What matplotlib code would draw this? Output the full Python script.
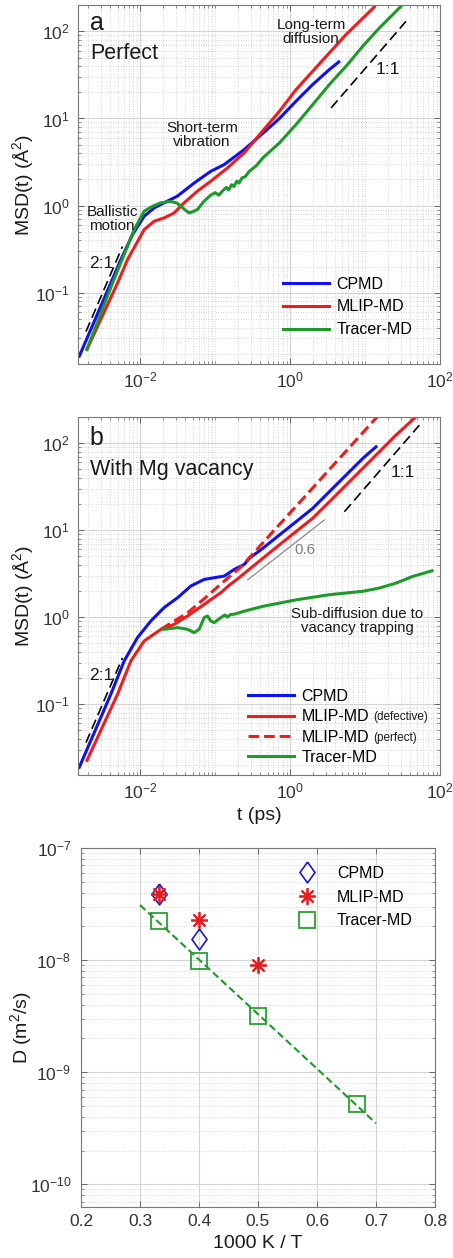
import numpy as np
import matplotlib
matplotlib.use("Agg")
import matplotlib.pyplot as plt
from matplotlib.ticker import LogLocator, FixedLocator, NullFormatter, MultipleLocator

plt.rcParams["font.family"] = ["Liberation Sans", "DejaVu Sans"]
plt.rcParams["mathtext.fontset"] = "custom"
plt.rcParams["mathtext.rm"] = "Liberation Sans"
plt.rcParams["mathtext.it"] = "Liberation Sans:italic"
plt.rcParams["mathtext.bf"] = "Liberation Sans:bold"

BLUE, RED, GREEN = "#1010f0", "#ee1c1c", "#1e9a28"

# ====== (a) perfect crystal: MSD(t) ======
t_cpmd_a = [1.54e-3, 5.52e-3, 7.91e-3, 1.13e-2, 1.54e-2, 2.09e-2, 3.15e-2, 5.25e-2,
            8.75e-2, 0.132, 0.244, 0.433, 0.721, 1.20, 2.00, 3.34, 4.46]
msd_cpmd_a = [0.0188, 0.241, 0.467, 0.757, 0.944, 1.08, 1.29, 1.82,
              2.48, 2.96, 4.40, 6.76, 10.0, 15.8, 24.5, 36.4, 44.5]

t_mlip_a = [1.95e-3, 4.99e-3, 6.78e-3, 1.13e-2, 1.54e-2, 2.09e-2, 2.84e-2, 3.86e-2,
            5.81e-2, 8.75e-2, 0.146, 0.244, 0.433, 0.721, 1.20, 2.00, 3.34, 5.58, 13.3]
msd_mlip_a = [0.0225, 0.130, 0.241, 0.532, 0.664, 0.724, 0.826, 1.08,
              1.47, 1.91, 2.71, 4.03, 7.24, 12.1, 21.4, 34.8, 56.5, 91.6, 190]

t_tracer_a = [1.95e-3, 4.28e-3, 6.78e-3, 8.32e-3, 1.13e-2, 1.45e-2, 1.89e-2, 2.56e-2,
              3.1e-2, 3.48e-2, 4.0e-2, 4.5e-2, 5.01e-2, 5.81e-2, 7.08e-2, 8.71e-2,
              0.100, 0.112, 0.126, 0.141, 0.151, 0.166, 0.178, 0.195, 0.209, 0.229,
              0.251, 0.282, 0.355, 0.433, 0.721, 1.20, 2.00, 3.34, 5.58, 9.31, 15.5, 31.8]
msd_tracer_a = [0.0225, 0.130, 0.343, 0.532, 0.865, 0.98, 1.08, 1.12,
                1.07, 0.986, 0.89, 0.826, 0.851, 0.904, 1.12, 1.32,
                1.41, 1.32, 1.48, 1.62, 1.51, 1.74, 1.66, 1.91, 1.82, 2.09,
                2.14, 2.45, 2.88, 3.53, 5.25, 8.51, 14.4, 24.5, 39.7, 67.3, 109, 202]

# ====== (b) with Mg vacancy ======
t_cpmd_b = [1.54e-3, 4.06e-3, 6.12e-3, 9.20e-3, 1.39e-2, 2.09e-2, 3.15e-2, 4.74e-2,
            7.13e-2, 0.107, 0.132, 0.179, 0.244, 0.287, 0.433, 0.721, 1.20, 2.00,
            3.34, 5.58, 9.31, 14.0]
msd_cpmd_b = [0.0188, 0.130, 0.314, 0.582, 0.904, 1.29, 1.67, 2.28,
              2.71, 2.88, 2.96, 3.53, 4.03, 4.76, 6.19, 8.81, 12.5, 17.8,
              27.7, 43.0, 66.7, 90.8]

t_mlip_def = [1.95e-3, 4.99e-3, 7.52e-3, 1.13e-2, 1.89e-2, 2.84e-2, 4.28e-2, 7.13e-2,
              0.119, 0.155, 0.199, 0.259, 0.433, 0.721, 1.20, 2.00, 3.34, 5.58,
              9.31, 15.5, 25.9, 50.1]
msd_mlip_def = [0.0225, 0.130, 0.314, 0.532, 0.724, 0.826, 1.03, 1.40,
                1.91, 2.34, 2.75, 3.31, 4.76, 6.78, 9.64, 13.7, 21.2, 33.0,
                51.3, 79.6, 124, 209]

t_mlip_perf = [1.89e-2, 4.28e-2, 6.98e-2, 0.129, 0.220, 0.318, 0.530, 0.885,
               1.48, 2.46, 4.10, 6.85, 12.6, 14.5]
msd_mlip_perf = [0.724, 1.12, 1.60, 2.55, 3.76, 5.33, 8.67, 14.1,
                 22.9, 37.2, 60.5, 98.4, 176, 200]

t_tracer_b = [2.09e-2, 3.15e-2, 4.28e-2, 5.25e-2, 6.12e-2, 7.13e-2, 7.91e-2, 8.75e-2,
              9.70e-2, 0.119, 0.135, 0.146, 0.160, 0.179, 0.244, 0.433, 1.20, 3.34,
              9.31, 15.5, 25.9, 43.3, 78.2]
msd_tracer_b = [0.724, 0.757, 0.724, 0.664, 0.724, 0.986, 1.03, 0.904,
                0.865, 0.986, 1.06, 1.00, 1.07, 1.08, 1.17, 1.33, 1.58, 1.81,
                1.98, 2.16, 2.46, 2.94, 3.41]

# guide lines (slope marks)
t_21 = [1.89e-3, 5.8e-3];   msd_21 = [0.036, 0.34]
t_11a = [3.52, 35.2];       msd_11a = [13.2, 130]
t_11b = [5.30, 53.0];       msd_11b = [16.3, 161]
t_06 = [0.273, 2.87];       msd_06 = [2.69, 13.1]

# ====== (c) diffusion coefficients ======
invT_cpmd = [0.333, 0.4];               D_cpmd = [3.9e-8, 1.55e-8]
invT_mlip = [0.333, 0.4, 0.5];          D_mlip = [3.9e-8, 2.3e-8, 9.0e-9]
invT_tracer = [0.333, 0.4, 0.5, 0.667]; D_tracer = [2.25e-8, 9.8e-9, 3.2e-9, 5.2e-10]
invT_fit = [0.3, 0.7];                  D_fit = [3.1e-8, 3.5e-10]

# tick positions
msd_xticks = [1e-2, 1, 1e2]
msd_yticks = [1e-1, 1, 1e1, 1e2]
D_yticks = [1e-10, 1e-9, 1e-8, 1e-7]

TXT = "#1a1a1a"
TICK = "#333333"


def style_axes(ax):
    ax.tick_params(which="both", direction="in", top=True, right=True,
                   color="#666666", labelcolor=TICK, labelsize=12.5)
    ax.tick_params(which="major", length=4, width=0.7)
    ax.tick_params(which="minor", length=2, width=0.5)
    for s in ax.spines.values():
        s.set_color("#777777")
        s.set_linewidth(0.8)
    ax.grid(True, which="major", color="#d4d4d4", lw=0.8, ls="-")
    ax.grid(True, which="minor", color="#c8c8c8", lw=0.6, ls=(0, (1, 2)))
    ax.set_axisbelow(True)


def msd_axes(ax):
    ax.set_xscale("log"); ax.set_yscale("log")
    ax.set_xlim(1.48e-3, 100); ax.set_ylim(0.0153, 200)
    ax.xaxis.set_major_locator(FixedLocator(msd_xticks))
    ax.xaxis.set_minor_locator(LogLocator(base=10, subs=np.arange(1, 10), numticks=100))
    ax.xaxis.set_minor_formatter(NullFormatter())
    ax.yaxis.set_major_locator(FixedLocator(msd_yticks))
    ax.yaxis.set_minor_locator(LogLocator(base=10, subs=np.arange(2, 10), numticks=100))
    ax.yaxis.set_minor_formatter(NullFormatter())
    style_axes(ax)
    ax.tick_params(axis="x", which="major", pad=5)
    ax.tick_params(axis="y", which="major", pad=6)
    ax.set_ylabel("MSD(t) (Å$^2$)", fontsize=14, color=TXT)
    ax.yaxis.set_label_coords(-0.115, 0.5)


fig = plt.figure(figsize=(4.53, 12.58), dpi=100)
W, H = 453, 1258
ax_a = fig.add_axes([78 / W, 1 - 364 / H, 362 / W, 359 / H])
ax_b = fig.add_axes([78 / W, 1 - 775 / H, 362 / W, 358 / H])
ax_c = fig.add_axes([81 / W, 1 - 1206.7 / H, 354 / W, 358.7 / H])

# ---------- (a) ----------
lw = 2.2
ax_a.plot(t_cpmd_a, msd_cpmd_a, color=BLUE, lw=lw, label="CPMD")
ax_a.plot(t_mlip_a, msd_mlip_a, color=RED, lw=lw, label="MLIP-MD")
ax_a.plot(t_tracer_a, msd_tracer_a, color=GREEN, lw=lw, label="Tracer-MD")
ax_a.plot(t_21, msd_21, color="k", lw=1.2, dashes=(6, 3))
ax_a.plot(t_11a, msd_11a, color="k", lw=1.2, dashes=(6, 3))
msd_axes(ax_a)

ax_a.text(0.033, 0.95, "a", transform=ax_a.transAxes, fontsize=18, color=TXT, va="center")
ax_a.text(0.033, 0.866, "Perfect", transform=ax_a.transAxes, fontsize=15.5, color=TXT, va="center")
ax_a.text(0.644, 0.925, "Long-term\ndiffusion", transform=ax_a.transAxes, fontsize=11,
          ha="center", va="center", linespacing=1.05, color=TXT)
ax_a.text(0.343, 0.638, "Short-term\nvibration", transform=ax_a.transAxes, fontsize=11,
          ha="center", va="center", linespacing=1.05, color=TXT)
ax_a.text(0.094, 0.404, "Ballistic\nmotion", transform=ax_a.transAxes, fontsize=11,
          ha="center", va="center", linespacing=1.05, color=TXT)
ax_a.text(0.064, 0.281, "2:1", transform=ax_a.transAxes, fontsize=12.5, ha="center", va="center", color=TXT)
ax_a.text(0.856, 0.819, "1:1", transform=ax_a.transAxes, fontsize=12.5, ha="center", va="center", color=TXT)

ax_a.legend(loc="upper left", bbox_to_anchor=(0.566, 0.243), frameon=False, borderpad=0,
            borderaxespad=0, handlelength=2.9, handletextpad=0.45, labelspacing=0.48,
            fontsize=11.5)

# ---------- (b) ----------
ax_b.plot(t_cpmd_b, msd_cpmd_b, color=BLUE, lw=lw, label="CPMD")
ax_b.plot(t_mlip_def, msd_mlip_def, color=RED, lw=lw, label="MLIP-MD")
ax_b.plot(t_mlip_perf, msd_mlip_perf, color=RED, lw=lw, dashes=(3.5, 1.6), label="MLIP-MD")
ax_b.plot(t_tracer_b, msd_tracer_b, color=GREEN, lw=lw, label="Tracer-MD")
ax_b.plot(t_21, msd_21, color="k", lw=1.2, dashes=(6, 3))
ax_b.plot(t_11b, msd_11b, color="k", lw=1.2, dashes=(6, 3))
ax_b.plot(t_06, msd_06, color="#8c8c8c", lw=0.9)
msd_axes(ax_b)
ax_b.set_xlabel("t (ps)", fontsize=14, color=TXT)
ax_b.xaxis.set_label_coords(0.5, -0.089)

ax_b.text(0.033, 0.941, "b", transform=ax_b.transAxes, fontsize=18, color=TXT, va="center")
ax_b.text(0.033, 0.852, "With Mg vacancy", transform=ax_b.transAxes, fontsize=15.5, color=TXT, va="center")
ax_b.text(0.898, 0.846, "1:1", transform=ax_b.transAxes, fontsize=12.5, ha="center", va="center", color=TXT)
ax_b.text(0.627, 0.628, "0.6", transform=ax_b.transAxes, fontsize=11, ha="center", va="center", color="#808080")
ax_b.text(0.771, 0.43, "Sub-diffusion due to\nvacancy trapping", transform=ax_b.transAxes,
          fontsize=10.7, ha="center", va="center", linespacing=1.05, color=TXT)
ax_b.text(0.064, 0.279, "2:1", transform=ax_b.transAxes, fontsize=12.5, ha="center", va="center", color=TXT)

leg_b = ax_b.legend(loc="upper left", bbox_to_anchor=(0.47, 0.241), frameon=False, borderpad=0,
                    borderaxespad=0, handlelength=2.9, handletextpad=0.45, labelspacing=0.34,
                    fontsize=11.5)

# ---------- (c) ----------
diamond = [(0, 1), (0.72, 0), (0, -1), (-0.72, 0), (0, 1)]
ax_c.plot(invT_fit, D_fit, color=GREEN, lw=1.5, dashes=(3.5, 1.8))
ax_c.plot(invT_cpmd, D_cpmd, ls="none", marker=diamond, ms=15, mfc="none", mec="#1a1acc",
          mew=1.2, label="CPMD")
ax_c.plot(invT_mlip, D_mlip, ls="none", marker=(8, 2, 0), ms=12, mec="#e51c1c", mew=1.3,
          label="MLIP-MD")
ax_c.plot(invT_tracer, D_tracer, ls="none", marker="s", ms=11, mfc="none", mec="#27a02f",
          mew=1.3, label="Tracer-MD")
ax_c.set_yscale("log")
ax_c.set_xlim(0.2, 0.8); ax_c.set_ylim(10 ** -10.2, 1e-7)
ax_c.xaxis.set_major_locator(MultipleLocator(0.1))
ax_c.yaxis.set_major_locator(FixedLocator(D_yticks))
ax_c.yaxis.set_minor_locator(LogLocator(base=10, subs=np.arange(2, 10), numticks=100))
ax_c.yaxis.set_minor_formatter(NullFormatter())
style_axes(ax_c)
ax_c.tick_params(axis="x", which="major", pad=5)
ax_c.tick_params(axis="y", which="major", pad=7)
ax_c.set_xlabel("1000 K / T", fontsize=14, color=TXT)
ax_c.xaxis.set_label_coords(0.5, -0.078)
ax_c.set_ylabel("D (m$^2$/s)", fontsize=14, color=TXT)
ax_c.yaxis.set_label_coords(-0.133, 0.5)
ax_c.legend(loc="upper left", bbox_to_anchor=(0.61, 0.95), frameon=False, borderpad=0,
            borderaxespad=0, handlelength=1.2, handletextpad=1.3, labelspacing=0.54,
            fontsize=11.5, numpoints=1)

# small "(defective)" / "(perfect)" after the legend labels in (b)
fig.canvas.draw()
renderer = fig.canvas.get_renderer()
for txt, extra in zip(leg_b.get_texts()[1:3], ["(defective)", "(perfect)"]):
    bb = txt.get_window_extent(renderer)
    fig.text((bb.x1 + 4) / W, (bb.y0 + 1) / H, extra, fontsize=8.5, color=TXT,
             ha="left", va="bottom")

fig.savefig("out.png", dpi=100)
